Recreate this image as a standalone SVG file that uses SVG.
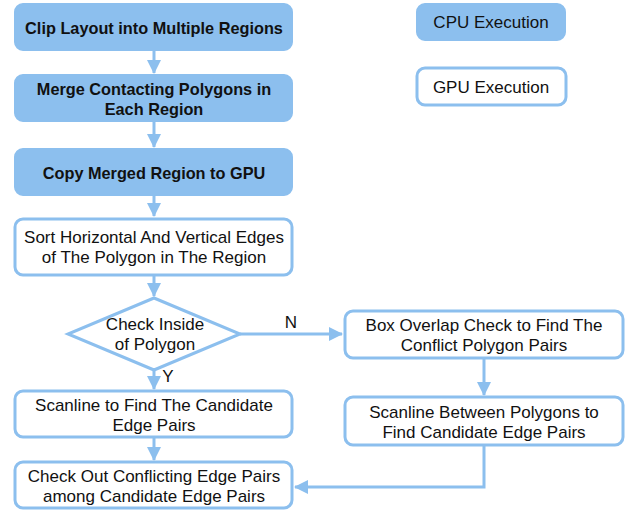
<svg xmlns="http://www.w3.org/2000/svg" width="628" height="510" viewBox="0 0 628 510">
<defs>
<style>
.cpu{fill:#8CBFEE;stroke:#8CBFEE;stroke-width:2}
.gpu{fill:#fff;stroke:#8CBFEE;stroke-width:3}
.t{font-family:"Liberation Sans",Arial,sans-serif;font-size:17px;fill:#111;text-anchor:middle}
.b{font-weight:bold;font-size:16.3px}
.c{fill:none;stroke:#8CBFEE;stroke-width:3}
</style>
<marker id="ah" markerWidth="14" markerHeight="14" refX="13" refY="7" orient="auto" markerUnits="userSpaceOnUse">
<path d="M0,0 L14,7 L0,14 z" fill="#8CBFEE"/>
</marker>
</defs>
<g id="connectors">
<path class="c" d="M154,50 V73" marker-end="url(#ah)"/>
<path class="c" d="M154,121 V147" marker-end="url(#ah)"/>
<path class="c" d="M154,195 V216" marker-end="url(#ah)"/>
<path class="c" d="M154,275 V296" marker-end="url(#ah)"/>
<path class="c" d="M154,370 V389" marker-end="url(#ah)"/>
<path class="c" d="M154,437 V460" marker-end="url(#ah)"/>
<path class="c" d="M240,334 H342" marker-end="url(#ah)"/>
<path class="c" d="M484,358 V395" marker-end="url(#ah)"/>
<path class="c" d="M484,445 V487 H295" marker-end="url(#ah)"/>
<text class="t" x="291" y="328">N</text>
<text class="t" x="168" y="382">Y</text>
</g>
<g id="n1"><rect class="cpu" x="15" y="4" width="277" height="46" rx="8"/><text class="t b" x="154" y="34">Clip Layout into Multiple Regions</text></g>
<g id="n2"><rect class="cpu" x="15" y="75" width="277" height="46" rx="8"/><text class="t b" x="154" y="95">Merge Contacting Polygons in</text><text class="t b" x="154" y="115">Each Region</text></g>
<g id="n3"><rect class="cpu" x="15" y="149" width="277" height="46" rx="8"/><text class="t b" x="154" y="179">Copy Merged Region to GPU</text></g>
<g id="n4"><rect class="gpu" x="15" y="219" width="277" height="56" rx="8"/><text class="t" x="154" y="243">Sort Horizontal And Vertical Edges</text><text class="t" x="154" y="263">of The Polygon in The Region</text></g>
<g id="n5"><path class="gpu" d="M154,298 L240,334 L154,370 L68,334 z"/><text class="t" x="155" y="330">Check Inside</text><text class="t" x="155" y="350">of Polygon</text></g>
<g id="n6"><rect class="gpu" x="15" y="391" width="277" height="46" rx="8"/><text class="t" x="154" y="411">Scanline to Find The Candidate</text><text class="t" x="154" y="431">Edge Pairs</text></g>
<g id="n7"><rect class="gpu" x="15" y="462" width="277" height="46" rx="8"/><text class="t" x="154" y="482">Check Out Conflicting Edge Pairs</text><text class="t" x="154" y="502">among Candidate Edge Pairs</text></g>
<g id="n8"><rect class="gpu" x="345" y="311" width="278" height="47" rx="8"/><text class="t" x="484" y="331">Box Overlap Check to Find The</text><text class="t" x="484" y="351">Conflict Polygon Pairs</text></g>
<g id="n9"><rect class="gpu" x="345" y="397" width="278" height="48" rx="8"/><text class="t" x="484" y="418">Scanline Between Polygons to</text><text class="t" x="484" y="438">Find Candidate Edge Pairs</text></g>
<g id="legend-cpu"><rect class="cpu" x="417" y="4" width="148" height="36" rx="8"/><text class="t" x="491" y="28">CPU Execution</text></g>
<g id="legend-gpu"><rect class="gpu" x="417" y="68" width="149" height="37" rx="8"/><text class="t" x="491" y="93">GPU Execution</text></g>
</svg>
